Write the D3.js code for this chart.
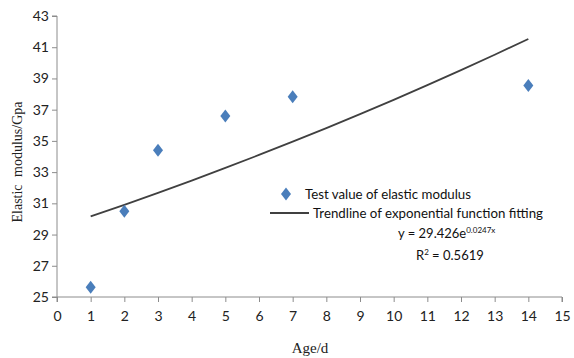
<!DOCTYPE html>
<html>
<head>
<meta charset="utf-8">
<script src="https://cdn.jsdelivr.net/npm/d3@7"></script>
<style>
    body { margin: 0; background: #fff; }
    .tick text { font-family: Lato, "Open Sans", sans-serif; font-size: 14px; fill: #222; }
    .domain, .tick line { stroke: #8c8c8c; }
</style>
</head>
<body>
<svg id="chart" width="574" height="358"></svg>
<script>
// measured ages and elastic modulus
const ages = [1, 2, 3, 5, 7, 14];
const modulus = [25.62, 30.5, 34.4, 36.6, 37.83, 38.55];

// trendline
const trendAges = [1, 2, 3, 4, 5, 6, 7, 8, 9, 10, 11, 12, 13, 14];
const trendValues = [30.16, 30.9, 31.67, 32.46, 33.27, 34.1, 34.95, 35.82, 36.71, 37.63, 38.57, 39.53, 40.52, 41.53];

const xTicks = d3.range(0, 16);
const yTicks = [25, 27, 29, 31, 33, 35, 37, 39, 41, 43];

let svg = d3.select("#chart");

let x = d3.scaleLinear().domain([0, 15]).range([57, 562]);
let y = d3.scaleLinear().domain([25, 43]).range([297, 16]);

svg.append("g")
    .attr("transform", "translate(0,297)")
    .call(d3.axisBottom(x).tickValues(xTicks).tickSize(5).tickPadding(9))
    .call(g => g.select(".domain").attr("d", "M57,5V0H562V5"));

svg.append("g")
    .attr("transform", "translate(57,0)")
    .call(d3.axisLeft(y).tickValues(yTicks).tickSize(5).tickPadding(3))
    .call(g => g.select(".domain").attr("d", "M-5,16H0V297H-5"));

// trendline
let line = d3.line()
    .x(function(d, i) { return x(trendAges[i]); })
    .y(function(d) { return y(d); })
    .curve(d3.curveMonotoneX);

svg.append("path")
    .datum(trendValues)
    .attr("d", line)
    .attr("fill", "none")
    .attr("stroke", "#404040")
    .attr("stroke-width", 1.8);

// diamonds
let diamond = "M0,-6.5L5,0L0,6.5L-5,0Z";
svg.selectAll(".pt")
    .data(modulus)
    .enter()
    .append("path")
    .attr("class", "pt")
    .attr("d", diamond)
    .attr("transform", function(d, i) { return "translate(" + x(ages[i]) + "," + y(d) + ")"; })
    .attr("fill", "#4a7ebb");

// axis titles
svg.append("text")
    .attr("transform", "translate(22,162) rotate(-90)")
    .attr("text-anchor", "middle")
    .style("font-family", "'Liberation Serif', 'DejaVu Serif', serif")
    .style("font-size", "14px")
    .style("word-spacing", "4px")
    .attr("fill", "#222")
    .text("Elastic modulus/Gpa");

svg.append("text")
    .attr("x", 310)
    .attr("y", 353)
    .attr("text-anchor", "middle")
    .style("font-family", "'Liberation Serif', 'DejaVu Serif', serif")
    .style("font-size", "15px")
    .attr("fill", "#222")
    .text("Age/d");

// legend
let legend = svg.append("g")
    .style("font-family", "Lato, 'Open Sans', sans-serif")
    .style("font-size", "14px")
    .attr("fill", "#111");

legend.append("path")
    .attr("d", diamond)
    .attr("transform", "translate(286,194)")
    .attr("fill", "#4a7ebb");
legend.append("text").attr("x", 305).attr("y", 199)
    .attr("textLength", 166).attr("lengthAdjust", "spacingAndGlyphs")
    .text("Test value of elastic modulus");

legend.append("line")
    .attr("x1", 270).attr("x2", 309).attr("y1", 213).attr("y2", 213)
    .attr("stroke", "#404040").attr("stroke-width", 1.8);
legend.append("text").attr("x", 313).attr("y", 218)
    .attr("textLength", 230).attr("lengthAdjust", "spacingAndGlyphs")
    .text("Trendline of exponential function fitting");

let eq = legend.append("text").attr("x", 398).attr("y", 238).style("font-size", "13px");
eq.append("tspan").text("y = 29.426e");
eq.append("tspan").attr("dy", -5).style("font-size", "8px").text("0.0247x");

let r2 = legend.append("text").attr("x", 416).attr("y", 260).style("font-size", "13px");
r2.append("tspan").text("R");
r2.append("tspan").attr("dy", -5).style("font-size", "8px").text("2");
r2.append("tspan").attr("dy", 5).text(" = 0.5619");
</script>
</body>
</html>
